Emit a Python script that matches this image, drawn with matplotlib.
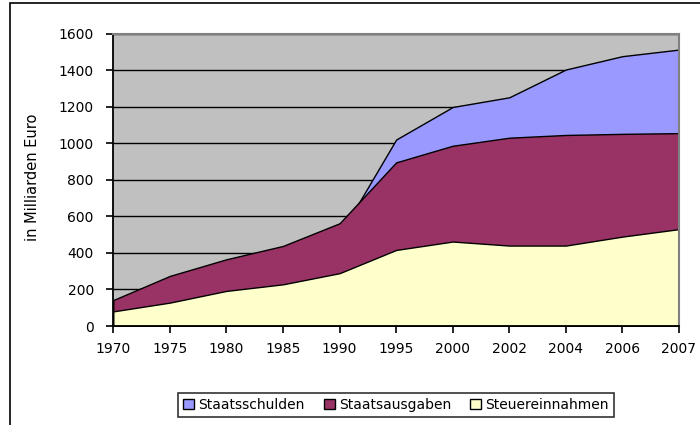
import matplotlib
matplotlib.use("Agg")
import matplotlib.pyplot as plt
import numpy as np
from matplotlib.patches import Patch, Rectangle

# Data (values in Milliarden Euro)
tick_labels = ['1970', '1975', '1980', '1985', '1990', '1995', '2000', '2002', '2004', '2006', '2007']
steuereinnahmen = [80, 128, 192, 228, 289, 416, 462, 440, 440, 489, 530]
staatsausgaben = [142, 274, 365, 438, 562, 895, 986, 1030, 1045, 1051, 1055]
staatsschulden = [64, 130, 239, 390, 495, 1020, 1198, 1251, 1403, 1476, 1512]
series_names = ['Staatsschulden', 'Staatsausgaben', 'Steuereinnahmen']
colors = ['#9999FF', '#993366', '#FFFFCC']

fig = plt.figure(figsize=(7, 4.25), dpi=100)
ax = fig.add_axes([113.3 / 700, 1 - 326 / 425, (679 - 113.3) / 700, (326 - 33.5) / 425])
ax.set_facecolor('#C0C0C0')

x = np.arange(len(tick_labels))
for vals, c in zip([staatsschulden, staatsausgaben, steuereinnahmen], colors):
    ax.fill_between(x, 0, vals, facecolor=c, edgecolor='black', linewidth=1.0, zorder=2)

ax.set_xlim(x[0], x[-1])
ax.set_ylim(0, 1600)
ax.set_yticks(np.arange(0, 1601, 200))
ax.set_xticks(x)
ax.set_xticklabels(tick_labels)
ax.yaxis.grid(True, color='black', linewidth=1.0, zorder=1)
ax.set_axisbelow(True)

for s in ['top', 'right']:
    ax.spines[s].set_color('#808080')
    ax.spines[s].set_linewidth(1.5)
for s in ['left', 'bottom']:
    ax.spines[s].set_color('black')
    ax.spines[s].set_linewidth(1.3)

ax.tick_params(axis='y', direction='out', length=5, width=1.2, pad=9, labelsize=10)
ax.tick_params(axis='x', direction='out', length=5, width=1.2, pad=6.5, labelsize=10)

ax.set_ylabel('in Milliarden Euro', fontsize=10.5)
ax.yaxis.set_label_coords((40 - 113.3) / 565.7, 0.51)

handles = [Patch(facecolor=c, edgecolor='black', linewidth=1.0) for c in colors]
leg = fig.legend(handles, series_names, loc='center', bbox_to_anchor=(396 / 700, 1 - 405 / 425),
                 ncol=3, fontsize=10, frameon=True, fancybox=False, edgecolor='black',
                 handlelength=0.8, handleheight=0.8, handletextpad=0.3, columnspacing=1.35,
                 borderpad=0.35, borderaxespad=0)
leg.get_frame().set_linewidth(1.2)

fig.add_artist(Rectangle((10 / 700, -0.1), 1.2, 1 - 3 / 425 + 0.1, transform=fig.transFigure,
                         fill=False, edgecolor='black', linewidth=1.2))

fig.savefig('out.png', dpi=100)
